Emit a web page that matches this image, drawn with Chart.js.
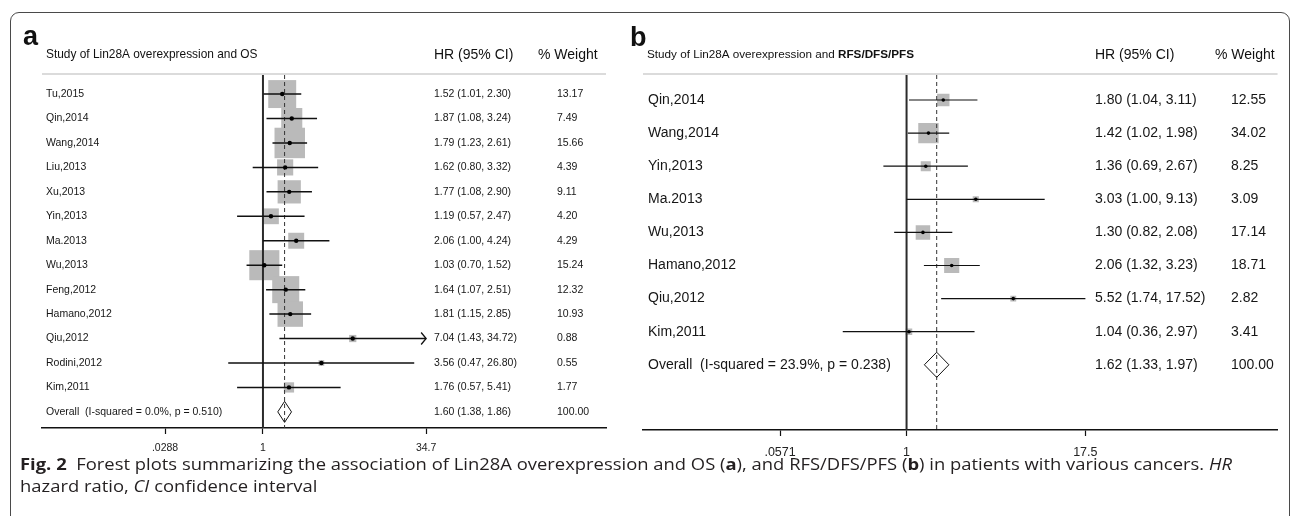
<!DOCTYPE html>
<html>
<head>
<meta charset="utf-8">
<script src="https://cdn.jsdelivr.net/npm/chart.js@4.4.1/dist/chart.umd.min.js"></script>
<style>
html, body { margin: 0; padding: 0; background: #fff; }
body { width: 1292px; height: 516px; position: relative; overflow: hidden; }
#frame { position: absolute; left: 10px; top: 12px; width: 1280px; height: 620px; border: 1px solid #4a4a4a; border-radius: 9px 9px 0 0; box-sizing: border-box; }
canvas { position: absolute; left: 0; top: 0; }
#cap { position: absolute; left: 20px; top: 453px; font-family: "Open Sans", sans-serif; font-size: 16.5px; line-height: 22px; color: #231f20; white-space: nowrap; transform-origin: 0 0; }
</style>
</head>
<body>
<div id="frame"></div>
<canvas id="chartA" width="1292" height="516"></canvas>
<canvas id="chartB" width="1292" height="516"></canvas>
<div id="cap">
  <div id="cap1"><b>Fig. 2</b>&nbsp; Forest plots summarizing the association of Lin28A overexpression and OS (<b>a</b>), and RFS/DFS/PFS (<b>b</b>) in patients with various cancers. <i>HR</i></div>
  <div>hazard ratio, <i>CI</i> confidence interval</div>
</div>
<script>
// panel a: OS
const studiesA = ['Tu,2015', 'Qin,2014', 'Wang,2014', 'Liu,2013', 'Xu,2013', 'Yin,2013', 'Ma.2013', 'Wu,2013', 'Feng,2012', 'Hamano,2012', 'Qiu,2012', 'Rodini,2012', 'Kim,2011'];
const hrA     = [1.52, 1.87, 1.79, 1.62, 1.77, 1.19, 2.06, 1.03, 1.64, 1.81, 7.04, 3.56, 1.76];
const lowA    = [1.01, 1.08, 1.23, 0.80, 1.08, 0.57, 1.00, 0.70, 1.07, 1.15, 1.43, 0.47, 0.57];
const highA   = [2.30, 3.24, 2.61, 3.32, 2.90, 2.47, 4.24, 1.52, 2.51, 2.85, 34.72, 26.80, 5.41];
const weightA = [13.17, 7.49, 15.66, 4.39, 9.11, 4.20, 4.29, 15.24, 12.32, 10.93, 0.88, 0.55, 1.77];
const overallLabelA = 'Overall  (I-squared = 0.0%, p = 0.510)';
const overallA = [1.60, 1.38, 1.86];
const tickLabelsA = ['.0288', '1', '34.7'];
const tickValsA = [0.119, 1, 34.7];

// panel b: RFS/DFS/PFS
const studiesB = ['Qin,2014', 'Wang,2014', 'Yin,2013', 'Ma.2013', 'Wu,2013', 'Hamano,2012', 'Qiu,2012', 'Kim,2011'];
const hrB     = [1.80, 1.42, 1.36, 3.03, 1.30, 2.06, 5.52, 1.04];
const lowB    = [1.04, 1.02, 0.69, 1.00, 0.82, 1.32, 1.74, 0.36];
const highB   = [3.11, 1.98, 2.67, 9.13, 2.08, 3.23, 17.52, 2.97];
const weightB = [12.55, 34.02, 8.25, 3.09, 17.14, 18.71, 2.82, 3.41];
const overallLabelB = 'Overall  (I-squared = 23.9%, p = 0.238)';
const overallB = [1.62, 1.33, 1.97];
const tickLabelsB = ['.0571', '1', '17.5'];
const tickValsB = [0.132, 1, 17.5];

const SANS = '"Liberation Sans", Arial, sans-serif';

function fmt(v) { return v.toFixed(2); }

const forestText = {
  id: 'forestText',
  afterDatasetsDraw(chart, args, o) {
    const ctx = chart.ctx, ys = chart.scales.y, xs = chart.scales.x, area = chart.chartArea;
    ctx.save();
    // rule under the header
    ctx.strokeStyle = '#cfcfcf';
    ctx.lineWidth = 1.5;
    ctx.beginPath();
    ctx.moveTo(area.left, area.top - 1);
    ctx.lineTo(area.right, area.top - 1);
    ctx.stroke();

    ctx.fillStyle = '#111';
    ctx.textBaseline = 'alphabetic';
    ctx.font = 'bold 27px ' + SANS;
    ctx.fillText(o.letter, o.letterX, o.letterY);

    ctx.textBaseline = 'middle';
    ctx.font = o.titleSize + 'px ' + SANS;
    ctx.fillText(o.title, o.titleX, 55);
    if (o.titleBold) {
      const w = ctx.measureText(o.title).width;
      ctx.font = 'bold ' + o.titleSize + 'px ' + SANS;
      ctx.fillText(o.titleBold, o.titleX + w, 55);
    }
    ctx.font = '14px ' + SANS;
    ctx.fillText('HR (95% CI)', o.hrX, 55);
    ctx.fillText('% Weight', o.headW, 55);

    ctx.fillStyle = '#161616';
    ctx.font = o.rowSize + 'px ' + SANS;
    const n = o.studies.length;
    for (let i = 0; i <= n; i++) {
      const py = ys.getPixelForValue(i);
      const isOv = i === n;
      const lab = isOv ? o.overallLabel : o.studies[i];
      const e = isOv ? o.overall[0] : o.hr[i];
      const l = isOv ? o.overall[1] : o.low[i];
      const h = isOv ? o.overall[2] : o.high[i];
      const w = isOv ? 100 : o.weight[i];
      ctx.fillText(lab, o.labelX, py);
      ctx.fillText(fmt(e) + ' (' + fmt(l) + ', ' + fmt(h) + ')', o.hrX, py);
      ctx.fillText(fmt(w), o.wX, py);
    }

    // arrow heads for intervals running off the axis
    ctx.strokeStyle = '#111';
    ctx.lineWidth = 1.3;
    o.arrows.forEach(i => {
      const px = xs.getPixelForValue(o.high[i]), py = ys.getPixelForValue(i);
      ctx.beginPath();
      ctx.moveTo(px - 5, py - 6);
      ctx.lineTo(px, py);
      ctx.lineTo(px - 5, py + 6);
      ctx.stroke();
    });
    ctx.restore();
  }
};

function makeForest(id, p) {
  const n = p.studies.length;
  const ci = [];
  p.hr.forEach((v, i) => { ci.push({ x: p.low[i], y: i }, { x: p.high[i], y: i }, { x: null, y: null }); });
  const e = p.overall[0];
  const diamond = [
    { x: p.overall[1], y: n }, { x: e, y: n - p.dh }, { x: p.overall[2], y: n },
    { x: e, y: n + p.dh }, { x: p.overall[1], y: n }
  ];
  return new Chart(document.getElementById(id), {
    type: 'scatter',
    data: {
      datasets: [
        { type: 'line', data: [{ x: 1, y: p.ymin }, { x: 1, y: p.ymax }], borderColor: '#2b2b2b', borderWidth: 2, pointRadius: 0, order: 4 },
        { type: 'line', data: [{ x: e, y: p.ymin }, { x: e, y: p.ymax }], borderColor: '#333', borderWidth: 1, borderDash: [4, 3], pointRadius: 0, order: 4 },
        { data: p.hr.map((v, i) => ({ x: v, y: i })), pointStyle: 'rect',
          pointRadius: p.weight.map(w => p.boxK * Math.sqrt(w) / Math.SQRT2),
          backgroundColor: '#bababa', borderWidth: 0, order: 6 },
        { type: 'line', data: ci, borderColor: '#111', borderWidth: p.ciW, pointRadius: 0, spanGaps: false, order: 3 },
        { type: 'line', data: diamond, borderColor: '#111', borderWidth: 1, pointRadius: 0, fill: false, tension: 0, order: 2 },
        { data: p.hr.map((v, i) => ({ x: v, y: i })), pointRadius: p.dotR, backgroundColor: '#000', borderWidth: 0, order: 1 }
      ]
    },
    options: {
      responsive: false,
      animation: false,
      events: [],
      layout: { padding: p.pad },
      plugins: {
        legend: { display: false },
        tooltip: { enabled: false },
        forestText: p
      },
      scales: {
        x: {
          type: 'logarithmic',
          min: p.xmin, max: p.xmax,
          afterBuildTicks: s => { s.ticks = p.tickVals.map(v => ({ value: v })); },
          afterFit: s => { s.height = 30; },
          ticks: {
            autoSkip: false, maxRotation: 0, padding: p.tickPad,
            color: '#222', font: { family: SANS, size: p.tickSize },
            callback: (v, i) => p.tickLabels[i]
          },
          grid: { display: true, drawOnChartArea: false, drawTicks: true, tickLength: 6, tickWidth: 1.2, color: '#111' },
          border: { display: true, color: '#111', width: 1.5 }
        },
        y: { type: 'linear', reverse: true, min: p.ymin, max: p.ymax, display: false }
      }
    },
    plugins: [forestText]
  });
}

makeForest('chartA', {
  studies: studiesA, hr: hrA, low: lowA, high: highA, weight: weightA,
  overall: overallA, overallLabel: overallLabelA,
  tickVals: tickValsA, tickLabels: tickLabelsA,
  xmin: 0.0082, xmax: 1733, ymin: -0.78, ymax: 13.66, dh: 0.43,
  pad: { left: 42, right: 686, top: 75, bottom: 58 },
  boxK: 7.7, dotR: 2.2, ciW: 1.5, tickSize: 10.5, tickPad: 8,
  letter: 'a', letterX: 23, letterY: 45,
  title: 'Study of Lin28A overexpression and OS', titleBold: '', titleX: 46, titleSize: 11.9,
  labelX: 46, hrX: 434, headW: 538, wX: 557, rowSize: 10.5, arrows: [10]
});

makeForest('chartB', {
  studies: studiesB, hr: hrB, low: lowB, high: highB, weight: weightB,
  overall: overallB, overallLabel: overallLabelB,
  tickVals: tickValsB, tickLabels: tickLabelsB,
  xmin: 0.0147, xmax: 380, ymin: -0.755, ymax: 9.97, dh: 0.38,
  pad: { left: 643, right: 11, top: 75, bottom: 56 },
  boxK: 3.5, dotR: 1.8, ciW: 1.2, tickSize: 12.5, tickPad: 9,
  letter: 'b', letterX: 630, letterY: 46,
  title: 'Study of Lin28A overexpression and ', titleBold: 'RFS/DFS/PFS', titleX: 647, titleSize: 11.7,
  labelX: 648, hrX: 1095, headW: 1215, wX: 1231, rowSize: 14, arrows: []
});

// squeeze the caption so the first line ends where the printed one does
const cap = document.getElementById('cap');
const w1 = document.getElementById('cap1').getBoundingClientRect().width;
cap.style.transform = 'scaleX(' + (1212 / w1) + ')';
</script>
</body>
</html>
